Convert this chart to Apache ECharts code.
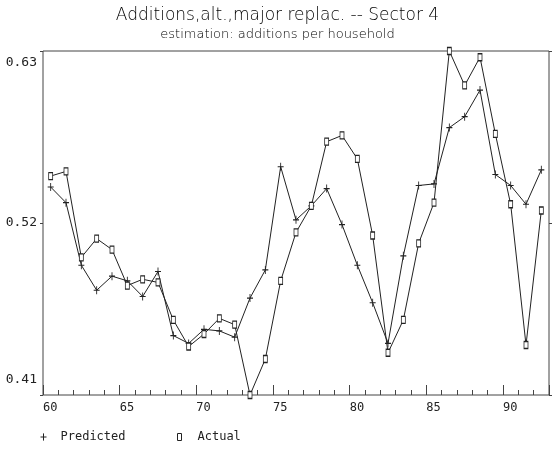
<!DOCTYPE html>
<html>
<head>
<meta charset="utf-8">
<script src="https://cdn.jsdelivr.net/npm/echarts@6/dist/echarts.min.js"></script>
<style>
  html, body { margin: 0; padding: 0; background: #fff; }
  #chart { width: 555px; height: 454px; }
</style>
</head>
<body>
<div id="chart"></div>
<script>
// Years 1960-1992 (two-digit labels), one observation per year
const years = [60, 61, 62, 63, 64, 65, 66, 67, 68, 69, 70, 71, 72, 73, 74, 75, 76,
               77, 78, 79, 80, 81, 82, 83, 84, 85, 86, 87, 88, 89, 90, 91, 92];

// Model estimate of additions per household
const predicted = [0.543, 0.533, 0.493, 0.477, 0.486, 0.483, 0.473, 0.489, 0.448, 0.443, 0.452,
                   0.451, 0.447, 0.472, 0.490, 0.556, 0.522, 0.531, 0.542, 0.519, 0.493, 0.469,
                   0.443, 0.499, 0.544, 0.545, 0.581, 0.588, 0.605, 0.551, 0.544, 0.532, 0.554];

// Observed additions per household
const actual = [0.550, 0.553, 0.498, 0.510, 0.503, 0.480, 0.484, 0.482, 0.458, 0.441, 0.449,
                0.459, 0.455, 0.410, 0.433, 0.483, 0.514, 0.531, 0.572, 0.576, 0.561, 0.512,
                0.437, 0.458, 0.507, 0.533, 0.630, 0.608, 0.626, 0.577, 0.532, 0.442, 0.528];

const yTicks = [0.41, 0.52, 0.63];

// Each yearly value sits in the middle of its year on the time axis
const toPoints = vals => years.map((y, i) => [y + 0.5, vals[i]]);

const ink = '#222';
const plusPath = 'path://M5,0L5,12M0,6L10,6';
const mono = 'DejaVu Sans Mono';

const chart = echarts.init(document.getElementById('chart'), null, { renderer: 'canvas' });

chart.setOption({
  animation: false,
  backgroundColor: '#fff',
  title: {
    text: 'Additions,alt.,major replac. -- Sector 4',
    subtext: 'estimation: additions per household',
    left: 'center',
    top: 7,
    padding: [0, 45, 0, 0],
    itemGap: 4,
    textStyle: { fontFamily: 'DejaVu Sans', fontSize: 17, fontWeight: 200, color: '#000' },
    subtextStyle: { fontFamily: 'DejaVu Sans', fontSize: 13, fontWeight: 200, color: '#000' }
  },
  grid: {
    left: 43, right: 6, top: 51, bottom: 59,
    show: true, borderColor: '#444', borderWidth: 1, backgroundColor: 'transparent'
  },
  legend: [
    {
      data: [{ name: 'Predicted', icon: plusPath }],
      left: 35, top: 426,
      itemWidth: 6, itemHeight: 8,
      itemStyle: { color: ink, borderColor: ink, borderWidth: 1 },
      textStyle: { fontFamily: mono, fontSize: 12, color: ink, padding: [0, 0, 0, 9] },
      selectedMode: false
    },
    {
      data: [{ name: 'Actual', icon: 'rect' }],
      left: 172, top: 426,
      itemWidth: 4, itemHeight: 7,
      itemStyle: { color: '#fff', borderColor: ink, borderWidth: 1 },
      textStyle: { fontFamily: mono, fontSize: 12, color: ink, padding: [0, 0, 0, 11] },
      selectedMode: false
    }
  ],
  xAxis: [
    {
      // yearly minor ticks
      type: 'value', min: 60, max: 93, interval: 1,
      axisLine: { show: false },
      axisTick: { show: true, inside: true, length: 5, lineStyle: { color: '#444' } },
      axisLabel: { show: false },
      splitLine: { show: false }
    },
    {
      // five-year major ticks with labels starting at the tick
      type: 'value', min: 60, max: 93, interval: 5, position: 'bottom',
      axisLine: { show: false },
      axisTick: { show: true, inside: true, length: 10, lineStyle: { color: '#444' } },
      axisLabel: {
        show: true, align: 'left', margin: 7,
        fontFamily: mono, fontSize: 12, color: ink,
        formatter: v => (v % 5 === 0 ? String(v) : '')
      },
      splitLine: { show: false }
    }
  ],
  yAxis: [
    {
      type: 'value', min: yTicks[0], max: yTicks[2], interval: 0.11,
      axisLine: { show: false },
      axisTick: { show: true, inside: false, length: 3, lineStyle: { color: '#444' } },
      splitLine: { show: false },
      axisLabel: {
        margin: 6, fontFamily: mono, fontSize: 13, color: ink,
        formatter: v => {
          const s = v.toFixed(2);
          if (Math.abs(v - yTicks[2]) < 1e-6) return '{t|' + s + '}';
          if (Math.abs(v - yTicks[0]) < 1e-6) return '{b|' + s + '}';
          return s;
        },
        rich: {
          t: { fontFamily: mono, fontSize: 13, color: ink, padding: [24, 0, 0, 0] },
          b: { fontFamily: mono, fontSize: 13, color: ink, padding: [0, 0, 30, 0] }
        }
      }
    },
    {
      type: 'value', position: 'right', min: yTicks[0], max: yTicks[2], interval: 0.11,
      axisLine: { show: false },
      axisTick: { show: true, inside: false, length: 3, lineStyle: { color: '#444' } },
      axisLabel: { show: false },
      splitLine: { show: false }
    }
  ],
  series: [
    {
      name: 'Predicted', type: 'line',
      data: toPoints(predicted),
      symbol: plusPath, symbolSize: [6, 8], showAllSymbol: true,
      lineStyle: { color: ink, width: 1 },
      itemStyle: { color: ink, borderColor: ink, borderWidth: 1 },
      z: 2
    },
    {
      name: 'Actual', type: 'line',
      data: toPoints(actual),
      symbol: 'rect', symbolSize: [4, 7], showAllSymbol: true,
      lineStyle: { color: ink, width: 1 },
      itemStyle: { color: '#fff', borderColor: ink, borderWidth: 1 },
      z: 3
    }
  ]
});
</script>
</body>
</html>
